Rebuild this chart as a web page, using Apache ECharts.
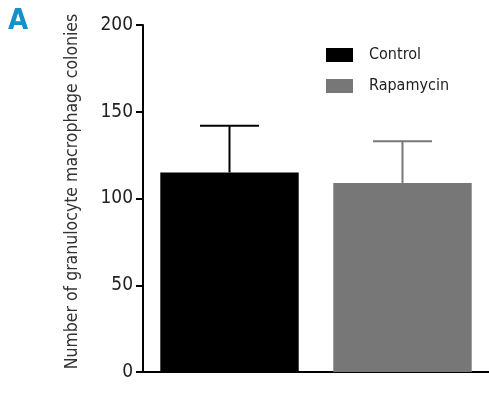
<!DOCTYPE html>
<html>
<head>
<meta charset="utf-8">
<script src="https://cdn.jsdelivr.net/npm/echarts@6/dist/echarts.min.js"></script>
<style>
  html, body { margin: 0; padding: 0; background: #fff; }
  #chart { width: 489px; height: 393px; }
</style>
</head>
<body>
<div id="chart"></div>
<script>
  // data
  var categories = ['Control', 'Rapamycin'];
  var means = [115, 109];
  var errUpper = [27, 24];
  var yTicks = [0, 50, 100, 150, 200];
  var barColors = ['#000000', '#777777'];

  var font = '"Liberation Sans Narrow", "DejaVu Sans Condensed", Arial, sans-serif';

  var chartDom = document.getElementById('chart');
  var myChart = echarts.init(chartDom);

  var barSeries = categories.map(function (name, i) {
    return {
      name: name,
      type: 'bar',
      stack: 'all',
      barWidth: '80%',
      itemStyle: { color: barColors[i] },
      data: categories.map(function (c, j) { return j === i ? means[i] : '-'; })
    };
  });

  var errData = categories.map(function (c, i) {
    return [i, means[i], means[i] + errUpper[i]];
  });

  var option = {
    animation: false,
    textStyle: { fontFamily: font },
    title: {
      text: 'A',
      left: 3,
      top: 2,
      textStyle: { color: '#1591c8', fontSize: 29, fontWeight: 'bold', fontFamily: font }
    },
    legend: {
      orient: 'vertical',
      left: 321,
      top: 42,
      itemWidth: 27,
      itemHeight: 14,
      itemGap: 15,
      icon: 'rect',
      data: categories,
      textStyle: { fontSize: 16, color: '#222', fontFamily: font, padding: [0, 0, 0, 11] }
    },
    grid: {
      left: 143,
      right: 0,
      top: 25,
      bottom: 21,
      containLabel: false
    },
    xAxis: {
      type: 'category',
      data: categories,
      axisLine: { lineStyle: { color: '#000', width: 2 } },
      axisTick: { show: false },
      axisLabel: { show: false }
    },
    yAxis: {
      type: 'value',
      min: yTicks[0],
      max: yTicks[yTicks.length - 1],
      interval: 50,
      name: 'Number of granulocyte macrophage colonies',
      nameLocation: 'middle',
      nameGap: 62,
      nameTextStyle: { fontSize: 17.5, color: '#333', fontFamily: font, padding: [0, 0, 0, 14] },
      axisLine: { show: true, lineStyle: { color: '#000', width: 2 } },
      axisTick: { show: true, length: 7, lineStyle: { color: '#000', width: 2 } },
      axisLabel: { fontSize: 19, color: '#222', margin: 10, fontFamily: font },
      splitLine: { show: false }
    },
    series: barSeries.concat([{
      type: 'custom',
      silent: true,
      z: 3,
      data: errData,
      renderItem: function (params, api) {
        var i = api.value(0);
        var p0 = api.coord([i, api.value(1)]);
        var p1 = api.coord([i, api.value(2)]);
        var half = 29.5;
        var col = barColors[params.dataIndex];
        var style = { stroke: col, lineWidth: 2 };
        return {
          type: 'group',
          children: [
            { type: 'line', shape: { x1: p0[0], y1: p0[1], x2: p1[0], y2: p1[1] }, style: style },
            { type: 'line', shape: { x1: p1[0] - half, y1: p1[1], x2: p1[0] + half, y2: p1[1] }, style: style }
          ]
        };
      }
    }])
  };

  myChart.setOption(option, true);
</script>
</body>
</html>
